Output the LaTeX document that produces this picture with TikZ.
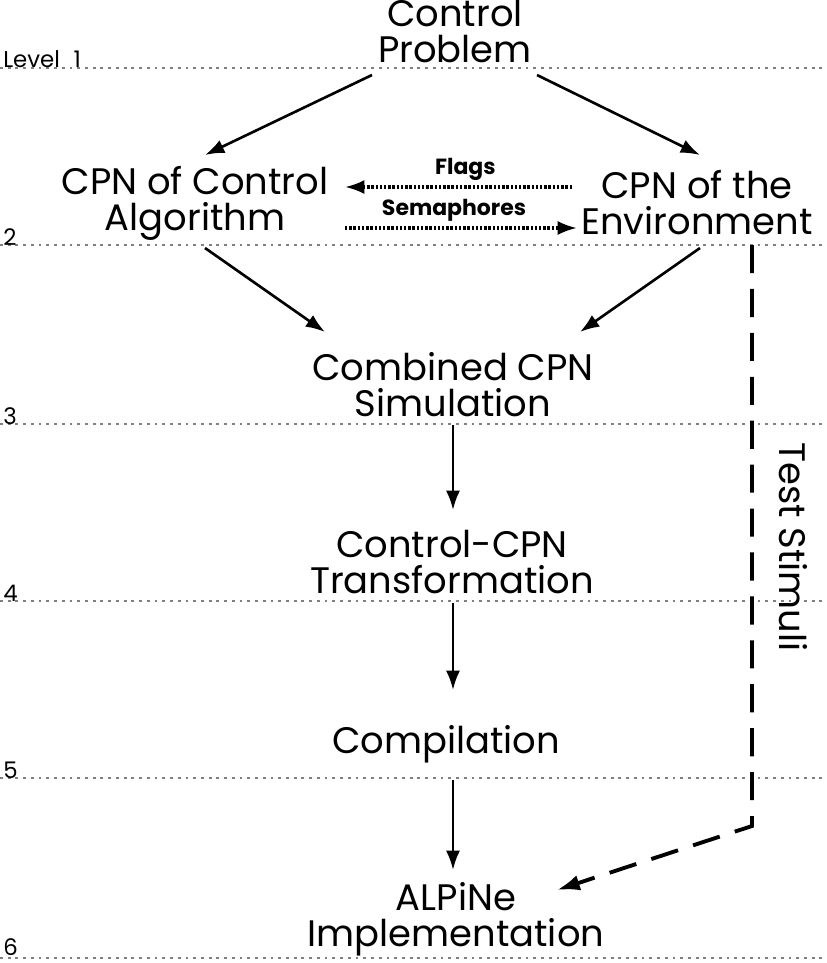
\documentclass[tikz,border=0pt]{standalone}
\usepackage{fontspec}
\setmainfont{Poppins}
\usepackage{tikz}
\usetikzlibrary{arrows.meta,positioning,calc}

\begin{document}
\begin{tikzpicture}[x=0.02cm,y=-0.02cm,
    stage/.style={align=center,font=\fontsize{21}{20.5}\selectfont,inner sep=0pt},
    lvl/.style={anchor=base west,font=\fontsize{13}{13}\selectfont,inner sep=0pt},
    lvlline/.style={gray,line width=0.7pt,dash pattern=on 1.6pt off 2.8pt},
    arr/.style={-{Latex[length=11pt,width=8pt]},line width=1.5pt},
    sig/.style={-{Latex[length=11pt,width=8pt]},line width=1.8pt,dash pattern=on 1.4pt off 1pt},
    siglbl/.style={font=\fontsize{12.5}{12.5}\selectfont\bfseries,inner sep=3pt},
    stim/.style={-{Latex[length=13pt,width=9pt]},line width=2.2pt,dash pattern=on 16pt off 9pt}]
    \useasboundingbox (0,0) rectangle (826,963);

    % level lines
    \foreach \yy in {68,245,424,601,778,958}
        \draw[lvlline] (0,\yy) -- (826,\yy);
    \node[lvl] (lvl1) at (3,68) {Level\hspace{0.6em}1};
    \node[lvl] (lvl2) at (3,245) {2};
    \node[lvl] (lvl3) at (3,424) {3};
    \node[lvl] (lvl4) at (3,601) {4};
    \node[lvl] (lvl5) at (3,778) {5};
    \node[lvl] (lvl6) at (3,955) {6};

    \node[stage] (prob) at (455,31) {Control\\Problem};
    \node[stage] (alg) at (195,203) {CPN of Control\\Algorithm};
    \node[stage] (env) at (697,203) {CPN of the\\Environment};
    \node[stage] (sim) at (453,385) {Combined CPN\\Simulation};
    \node[stage] (trans) at (452,562) {Control-CPN\\Transformation};
    \node[stage] (comp) at (446,744) {Compilation};
    \node[stage] (impl) at (456,919) {ALPiNe\\Implementation};
    \node[stage,rotate=-90] (stimuli) at (793,547) {Test Stimuli};

    \draw[arr] ([shift={(-83,44)}]prob.center) -- ([shift={(10,-48)}]alg.center);
    \draw[arr] ([shift={(82,44)}]prob.center) -- ([shift={(3,-48)}]env.center);
    \draw[sig] ([shift={(-125,-16)}]env.center) -- node[siglbl,above,pos=0.47] (flags) {Flags} ([shift={(150,-16)}]alg.center);
    \draw[sig] ([shift={(150,25)}]alg.center) -- node[siglbl,above,pos=0.47] (sema) {Semaphores} ([shift={(-120,25)}]env.center);
    \draw[arr] ([shift={(10,45)}]alg.center) -- ([shift={(-128,-53)}]sim.center);
    \draw[arr] ([shift={(3,45)}]env.center) -- ([shift={(127,-53)}]sim.center);
    \draw[arr] ([shift={(0,40)}]sim.center) -- ([shift={(1,-52)}]trans.center);
    \draw[arr] ([shift={(1,41)}]trans.center) -- ([shift={(7,-54)}]comp.center);
    \draw[arr] ([shift={(7,36)}]comp.center) -- ([shift={(-3,-49)}]impl.center);

    \coordinate (turn) at (752,826);
    \draw[stim] ([shift={(55,42)}]env.center) -- (turn) -- ([shift={(101,-29)}]impl.center);
\end{tikzpicture}
\end{document}
